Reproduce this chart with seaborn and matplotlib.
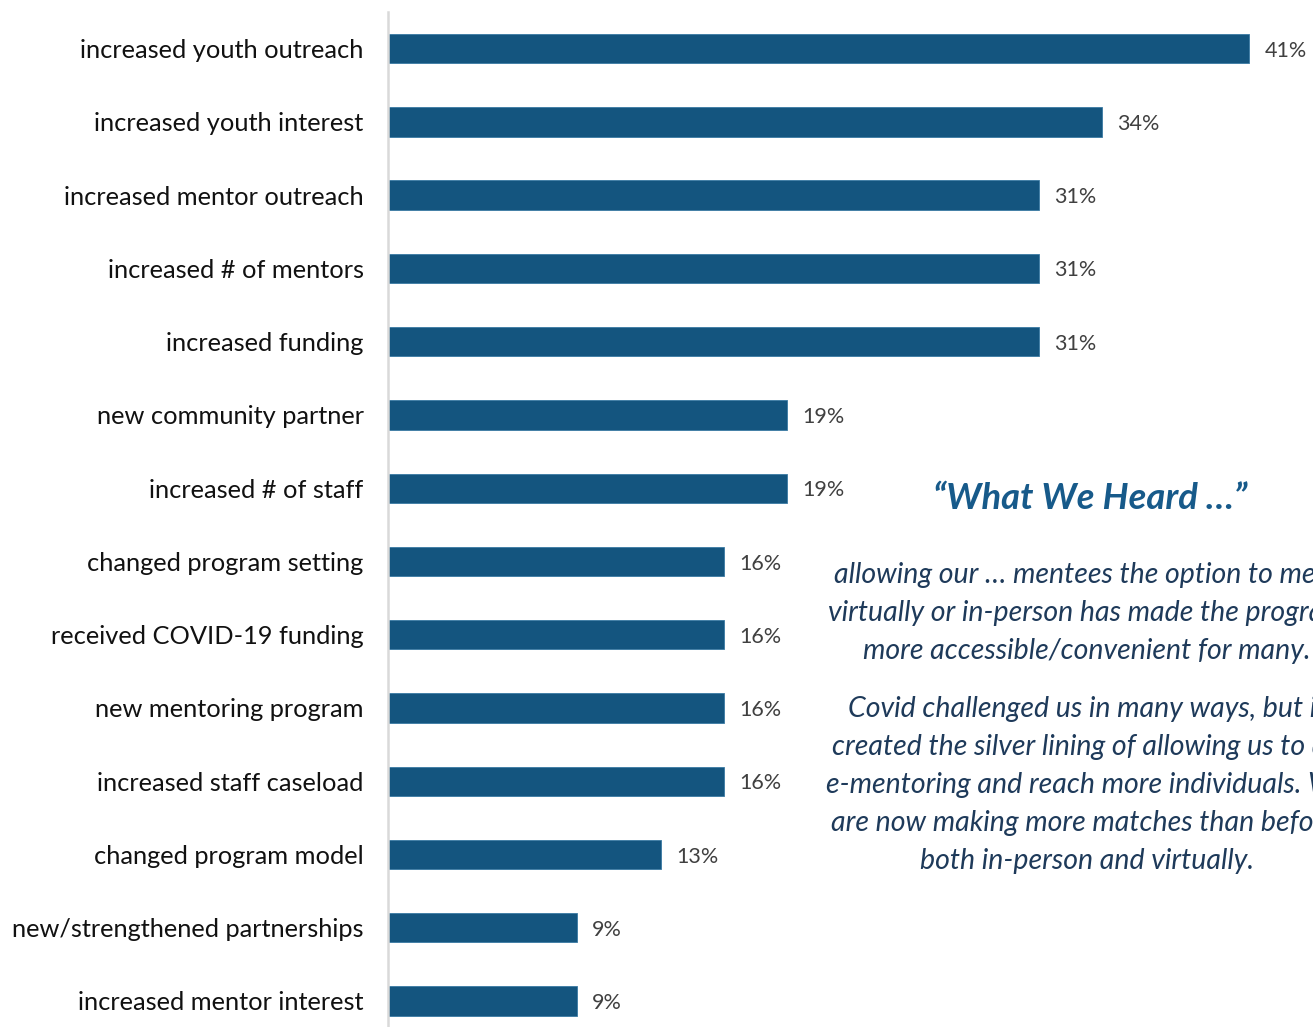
import matplotlib
matplotlib.use("Agg")
import matplotlib.pyplot as plt
import seaborn as sns
import pandas as pd

categories = [
    "increased youth outreach",
    "increased youth interest",
    "increased mentor outreach",
    "increased # of mentors",
    "increased funding",
    "new community partner",
    "increased # of staff",
    "changed program setting",
    "received COVID-19 funding",
    "new mentoring program",
    "increased staff caseload",
    "changed program model",
    "new/strengthened partnerships",
    "increased mentor interest",
]
values = [41, 34, 31, 31, 31, 19, 19, 16, 16, 16, 16, 13, 9, 9]
value_labels = [f"{v}%" for v in values]

quote_title = "\u201cWhat We Heard \u2026\u201d"
quote_1 = ("allowing our \u2026 mentees the option to meet\n"
           "virtually or in-person has made the program\n"
           "more accessible/convenient for many.")
quote_2 = ("Covid challenged us in many ways, but it\n"
           "created the silver lining of allowing us to do\n"
           "e-mentoring and reach more individuals. We\n"
           "are now making more matches than before,\n"
           "both in-person and virtually.")

sns.set_theme(style="white")
plt.rcParams["font.family"] = ["Lato", "DejaVu Sans"]

df = pd.DataFrame({"category": categories, "value": values})

W, H = 1313, 1027
fig = plt.figure(figsize=(W / 100, H / 100), dpi=100)
left = 388 / W
top = 1 - 12 / H
bottom = 1 - 1037.6 / H
ax = fig.add_axes([left, bottom, 1 - left, top - bottom])

bar_color = "#14557f"
sns.barplot(data=df, y="category", x="value", orient="h", color=bar_color,
            width=0.4, saturation=1, edgecolor="#3a7aa3", linewidth=0.6, ax=ax)

ax.set_xlim(0, 925 / 21)
ax.set_ylim(len(categories) - 0.5, -0.5)
ax.set_xlabel("")
ax.set_ylabel("")
ax.set_xticks([])
for s in ["top", "right", "bottom"]:
    ax.spines[s].set_visible(False)
ax.spines["left"].set_color("#d9d9d9")
ax.spines["left"].set_linewidth(1.8)
ax.tick_params(axis="y", length=0, pad=17.5, labelsize=18.3, labelcolor="#111111")

for i, (v, lab) in enumerate(zip(values, value_labels)):
    ax.annotate(lab, xy=(v, i), xytext=(11, -1.5), textcoords="offset points",
                ha="left", va="center", fontsize=15.5, color="#404040")

fig.text(1090 / W, 1 - 498 / H, quote_title, ha="center", va="center",
         fontsize=26.2, fontweight="bold", fontstyle="italic", color="#175a8a")
fig.text(1087 / W, 1 - 613 / H, quote_1, ha="center", va="center",
         fontsize=20.5, fontstyle="italic", color="#1e3a5a", linespacing=1.56)
fig.text(1087 / W, 1 - 785 / H, quote_2, ha="center", va="center",
         fontsize=20.5, fontstyle="italic", color="#1e3a5a", linespacing=1.56)

fig.savefig("out.png", dpi=100, facecolor="white")
